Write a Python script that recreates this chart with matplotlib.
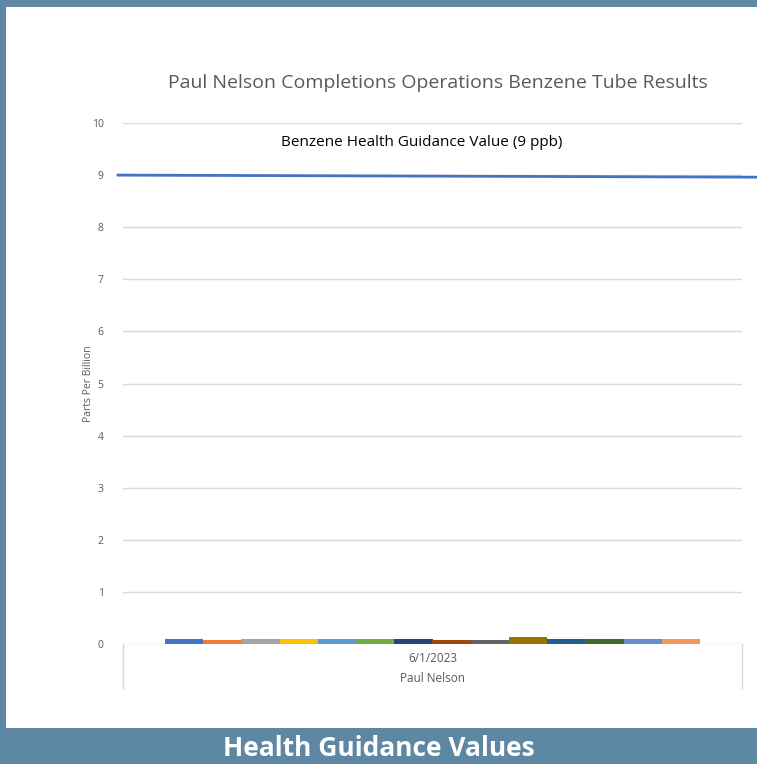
import matplotlib.pyplot as plt
import matplotlib.patches as patches
import numpy as np

# data
samples = list(range(1, 15))
benzene_ppb = [0.10, 0.07, 0.10, 0.10, 0.10, 0.10, 0.10, 0.07, 0.07, 0.14, 0.10, 0.10, 0.10, 0.10]
bar_colors = ['#4472C4', '#ED7D31', '#A5A5A5', '#FFC000', '#5B9BD5', '#70AD47', '#264478',
              '#9E480E', '#636363', '#997300', '#255E91', '#43682B', '#698ED0', '#F1975A']
guidance_value = 9
date_label = '6/1/2023'
site_label = 'Paul Nelson'
y_ticks = list(range(0, 11))

plt.rcParams['font.family'] = ['Open Sans', 'DejaVu Sans']

fig = plt.figure(figsize=(7.57, 7.64), dpi=100)
fig.patch.set_facecolor('#5E87A3')

# white panel behind the chart
panel = patches.Rectangle((6/757, 36/764), 1.0, 721/764, transform=fig.transFigure,
                          facecolor='white', edgecolor='none', zorder=-10)
fig.patches.append(panel)

ax = fig.add_axes([123/757, 120/764, 619/757, 521/764])
ax.set_facecolor('none')

# bars side by side inside the single category
n = len(benzene_ppb)
group_left = 42/619
bar_w = (1 - 2*group_left) / n
xs = group_left + bar_w*(np.arange(n) + 0.5)
ax.bar(xs, benzene_ppb, width=bar_w, color=bar_colors, zorder=3)

ax.set_xlim(0, 1)
ax.set_ylim(0, 10)
ax.set_yticks(y_ticks)
ax.set_yticklabels([str(t) for t in y_ticks], fontsize=7.5, color='#595959')
ax.tick_params(axis='y', length=0, pad=14)
ax.set_xticks([])
ax.grid(axis='y', color='#D9D9D9', linewidth=1, zorder=0)
for s in ax.spines.values():
    s.set_visible(False)

# health guidance line, runs past the right edge
ax.plot([-0.008, 1.03], [guidance_value, guidance_value - 0.04], color='#4472C4', linewidth=2,
        transform=ax.get_yaxis_transform(), clip_on=False, zorder=4)
ax.text(0.483, 9.62, 'Benzene Health Guidance Value (9 ppb)', ha='center', va='center',
        fontsize=11, color='black')

# category box under the axis
ax.plot([0, 0], [0, -44/521], color='#D9D9D9', linewidth=1, transform=ax.transAxes, clip_on=False)
ax.plot([1, 1], [0, -44/521], color='#D9D9D9', linewidth=1, transform=ax.transAxes, clip_on=False)
ax.text(0.5, -14/521, date_label, ha='center', va='center', fontsize=8.5, color='#595959',
        transform=ax.transAxes)
ax.text(0.5, -34/521, site_label, ha='center', va='center', fontsize=8.5, color='#595959',
        transform=ax.transAxes)

ax.set_ylabel('Parts Per Billion', fontsize=7.5, color='#595959', labelpad=-2)

fig.text(438/757, 1 - 83/764, 'Paul Nelson Completions Operations Benzene Tube Results',
         ha='center', va='center', fontsize=14, color='#595959')
fig.text(379/757, 1 - 748/764, 'Health Guidance Values', ha='center', va='center',
         fontsize=19, fontweight='bold', color='white')

fig.savefig('out.png', dpi=100, facecolor=fig.get_facecolor())
